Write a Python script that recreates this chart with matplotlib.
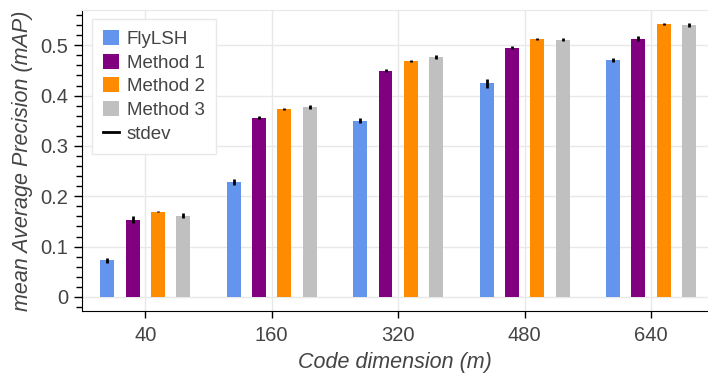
import numpy as np
import matplotlib
matplotlib.use("Agg")
from matplotlib import pyplot as plt
from matplotlib.patches import Patch
from matplotlib.lines import Line2D
from matplotlib.ticker import FuncFormatter, MultipleLocator

plt.rcParams['font.family'] = ['Liberation Sans', 'DejaVu Sans']

# data
dims = ['40', '160', '320', '480', '640']
methods = ['FlyLSH', 'Method 1', 'Method 2', 'Method 3']
colors = ['#6495ED', '#800080', '#FF8C00', '#C0C0C0']

flylsh = [0.073, 0.228, 0.350, 0.424, 0.470]
method1 = [0.153, 0.356, 0.449, 0.495, 0.513]
method2 = [0.169, 0.374, 0.468, 0.513, 0.542]
method3 = [0.161, 0.377, 0.476, 0.511, 0.540]

flylsh_sd = [0.005, 0.006, 0.005, 0.008, 0.004]
method1_sd = [0.007, 0.003, 0.003, 0.003, 0.005]
method2_sd = [0.001, 0.002, 0.002, 0.002, 0.002]
method3_sd = [0.005, 0.004, 0.004, 0.003, 0.004]

values = [flylsh, method1, method2, method3]
stdevs = [flylsh_sd, method1_sd, method2_sd, method3_sd]
offsets = [-0.3, -0.1, 0.1, 0.3]

fig = plt.figure(figsize=(7.08, 3.77), dpi=100)
ax = fig.add_axes([82 / 708, 66 / 377, 626 / 708, 301 / 377])

x = np.arange(len(dims))
for vals, sd, off, c in zip(values, stdevs, offsets, colors):
    ax.bar(x + off, vals, width=0.11, color=c, zorder=2)
    ax.errorbar(x + off, vals, yerr=sd, fmt='none', ecolor='black',
                elinewidth=2, capsize=0, zorder=3)

ax.set_xlim(-0.5, 4.45)
ax.set_ylim(-0.028, 0.57)
ax.set_xticks(x)
ax.set_xticklabels(dims)
ax.yaxis.set_major_locator(MultipleLocator(0.1))
ax.yaxis.set_minor_locator(MultipleLocator(0.02))
ax.yaxis.set_major_formatter(FuncFormatter(lambda v, p: '%g' % round(v, 2)))

ax.grid(True, color='#e8e8e8', linewidth=1, zorder=0)
ax.set_axisbelow(True)
ax.spines['top'].set_color('#e8e8e8')
ax.spines['right'].set_visible(False)
ax.spines['left'].set_color('black')
ax.spines['bottom'].set_color('black')

ax.tick_params(axis='both', colors='black', labelcolor='#444444', labelsize=14.5)
ax.tick_params(axis='y', which='major', length=6, width=1, pad=4)
ax.tick_params(axis='y', which='minor', length=4, width=1)
ax.tick_params(axis='x', length=5, width=1, pad=6)

ax.set_xlabel('Code dimension (m)', fontsize=15.5, style='italic', color='#444444', labelpad=5)
ax.set_ylabel('mean Average Precision (mAP)', fontsize=15.5, style='italic', color='#444444', labelpad=5)

handles = [Patch(facecolor=c, edgecolor='none') for c in colors]
handles.append(Line2D([], [], color='black', linewidth=2))
leg = ax.legend(handles, methods + ['stdev'], loc='upper left',
                bbox_to_anchor=(0.016, 0.97), borderaxespad=0,
                fontsize=13.5, handlelength=0.85, handleheight=0.85,
                handletextpad=0.4, labelspacing=0.3, borderpad=0.6,
                fancybox=False, framealpha=1, edgecolor='#e8e8e8')
for t in leg.get_texts():
    t.set_color('#444444')

fig.savefig('out.png', dpi=100)
